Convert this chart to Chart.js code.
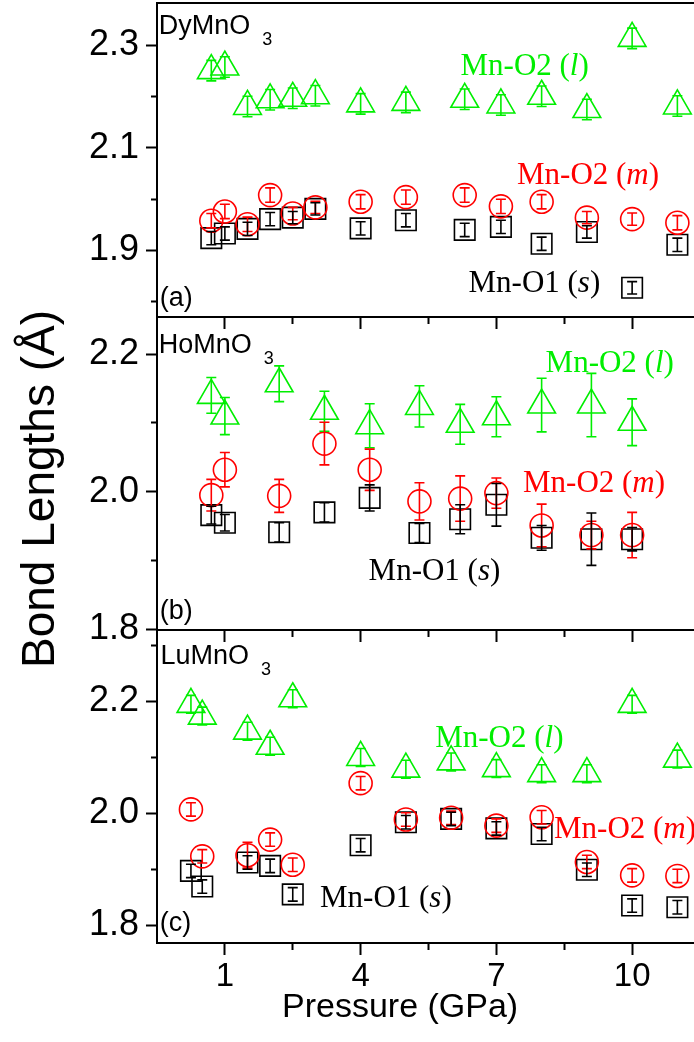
<!DOCTYPE html>
<html>
<head>
<meta charset="utf-8">
<script src="https://cdn.jsdelivr.net/npm/chart.js@4.4.1/dist/chart.umd.min.js"></script>
<style>
  body { margin:0; width:694px; height:1042px; overflow:hidden; background:#fff; position:relative; }
  canvas { position:absolute; left:0; }
  .lbl { position:absolute; white-space:nowrap; line-height:1; }
  .sans { font-family:'Liberation Sans', Arial, sans-serif; }
  .serif { font-family:'Liberation Serif', 'Times New Roman', serif; }
</style>
</head>
<body>
<canvas id="cA" width="702" height="340" style="top:0px"></canvas>
<canvas id="cB" width="702" height="340" style="top:314px"></canvas>
<canvas id="cC" width="702" height="415" style="top:627px"></canvas>
<div id="labels"></div>

<script>
// Presiones (GPa)
const dyPressure = [0.7, 1.0, 1.5, 2.0, 2.5, 3.0, 4.0, 5.0, 6.3, 7.1, 8.0, 9.0, 10.0, 11.0];
const hoPressure = [0.7, 1.0, 2.2, 3.2, 4.2, 5.3, 6.2, 7.0, 8.0, 9.1, 10.0];
const luPressure = [0.25, 0.5, 1.5, 2.0, 2.5, 4.0, 5.0, 6.0, 7.0, 8.0, 9.0, 10.0, 11.0];

// DyMnO3
const dyLong   = [2.251, 2.258, 2.181, 2.194, 2.197, 2.202, 2.186, 2.189, 2.195, 2.184, 2.201, 2.175, 2.314, 2.182];
const dyLongErr = [0.02, 0.02, 0.02, 0.02, 0.02, 0.02, 0.02, 0.02, 0.02, 0.02, 0.02, 0.02, 0.02, 0.02];
const dyMid    = [1.958, 1.976, 1.951, 2.008, 1.972, 1.984, 1.995, 2.004, 2.008, 1.986, 1.995, 1.964, 1.961, 1.954];
const dyMidErr = [0.014, 0.014, 0.014, 0.014, 0.012, 0.012, 0.014, 0.014, 0.014, 0.014, 0.014, 0.012, 0.012, 0.014];
const dyShort  = [1.924, 1.933, 1.942, 1.961, 1.964, 1.981, 1.943, 1.959, 1.940, 1.946, 1.913, 1.936, 1.827, 1.911];
const dyShortErr = [0.013, 0.013, 0.013, 0.013, 0.012, 0.012, 0.013, 0.013, 0.013, 0.013, 0.013, 0.012, 0.012, 0.013];

// HoMnO3
const hoLong   = [2.140, 2.110, 2.157, 2.117, 2.096, 2.124, 2.098, 2.109, 2.126, 2.126, 2.101];
const hoLongErr = [0.026, 0.027, 0.026, 0.029, 0.032, 0.030, 0.029, 0.029, 0.039, 0.046, 0.034];
const hoMid    = [1.995, 2.032, 1.994, 2.070, 2.032, 1.986, 1.990, 1.998, 1.951, 1.937, 1.937];
const hoMidErr = [0.023, 0.025, 0.024, 0.031, 0.030, 0.027, 0.033, 0.022, 0.031, 0.020, 0.033];
const hoShort  = [1.966, 1.955, 1.941, 1.970, 1.991, 1.940, 1.960, 1.981, 1.933, 1.931, 1.931];
const hoShortErr = [0.013, 0.012, 0.014, 0.014, 0.019, 0.014, 0.021, 0.031, 0.018, 0.038, 0.017];

// LuMnO3
const luLong   = [2.195, 2.174, 2.147, 2.120, 2.205, 2.100, 2.079, 2.092, 2.080, 2.071, 2.071, 2.195, 2.097];
const luLongErr = [0.016, 0.016, 0.016, 0.016, 0.016, 0.016, 0.016, 0.016, 0.016, 0.016, 0.016, 0.016, 0.016];
const luMid    = [2.007, 1.923, 1.925, 1.953, 1.908, 2.054, 1.989, 1.992, 1.978, 1.993, 1.913, 1.889, 1.888];
const luMidErr = [0.012, 0.012, 0.023, 0.012, 0.012, 0.012, 0.012, 0.012, 0.012, 0.012, 0.012, 0.012, 0.012];
const luShort  = [1.897, 1.869, 1.912, 1.906, 1.855, 1.943, 1.984, 1.990, 1.973, 1.963, 1.899, 1.835, 1.832];
const luShortErr = [0.012, 0.012, 0.012, 0.012, 0.012, 0.012, 0.012, 0.012, 0.012, 0.012, 0.012, 0.012, 0.012];

// Ticks
const xTicks = [1, 2.5, 4, 5.5, 7, 8.5, 10, 11.5];
const xLabels = [1, 4, 7, 10];
const yTicksA = [1.8, 1.9, 2.0, 2.1, 2.2, 2.3];
const yLabelsA = [1.9, 2.1, 2.3];
const yTicksB = [1.8, 1.9, 2.0, 2.1, 2.2];
const yLabelsB = [1.8, 2.0, 2.2];
const yTicksC = [1.8, 1.9, 2.0, 2.1, 2.2, 2.3];
const yLabelsC = [1.8, 2.0, 2.2];

const GREEN = '#00ee00', RED = '#ff0000', BLACK = '#000000';

Chart.defaults.font.family = "'Liberation Sans', Arial, sans-serif";
Chart.defaults.color = '#000';
Chart.defaults.animation = false;

const has = (list, v) => list.some(t => Math.abs(t - v) < 1e-6);

// error bars drawn from the scales
const errorBars = {
  id: 'errorBars',
  afterDatasetsDraw(chart) {
    const ctx = chart.ctx;
    const xs = chart.scales.x, ys = chart.scales.y;
    ctx.save();
    chart.data.datasets.forEach(ds => {
      if (!ds.err) return;
      ctx.strokeStyle = ds.borderColor;
      ctx.lineWidth = 1.6;
      ds.data.forEach((p, i) => {
        const e = ds.err[i];
        const x = xs.getPixelForValue(p.x);
        const y1 = ys.getPixelForValue(p.y + e);
        const y2 = ys.getPixelForValue(p.y - e);
        ctx.beginPath();
        ctx.moveTo(x, y1); ctx.lineTo(x, y2);
        ctx.moveTo(x - 5, y1); ctx.lineTo(x + 5, y1);
        ctx.moveTo(x - 5, y2); ctx.lineTo(x + 5, y2);
        ctx.stroke();
      });
    });
    ctx.restore();
  }
};

// marco del panel
const frame = {
  id: 'frame',
  afterDraw(chart) {
    const a = chart.chartArea, ctx = chart.ctx;
    ctx.save();
    ctx.strokeStyle = '#000';
    ctx.lineWidth = 2;
    ctx.strokeRect(a.left, a.top, a.right - a.left, a.bottom - a.top);
    ctx.restore();
  }
};

function series(xv, yv, ev, color, style, r) {
  return {
    data: xv.map((x, i) => ({x: x, y: yv[i]})),
    err: ev,
    borderColor: color,
    backgroundColor: 'transparent',
    pointStyle: style,
    pointRadius: r,
    pointBorderWidth: 1.6,
    pointBackgroundColor: 'transparent',
    showLine: false,
    clip: 20
  };
}

function noPad(s) { s.paddingTop = 0; s.paddingBottom = 0; s.paddingLeft = 0; s.paddingRight = 0; }

function panel(id, px, long, longErr, mid, midErr, short, shortErr, yMin, yMax, yTicks, yLabels, xAxisH, showX) {
  new Chart(document.getElementById(id), {
    type: 'scatter',
    data: {
      datasets: [
        series(px, long, longErr, GREEN, 'triangle', 16),
        series(px, mid, midErr, RED, 'circle', 11.5),
        series(px, short, shortErr, BLACK, 'rect', 14.5)
      ]
    },
    options: {
      responsive: false,
      animation: false,
      layout: { autoPadding: false, padding: { top: 3, right: 2, left: 0, bottom: 0 } },
      plugins: { legend: { display: false }, tooltip: { enabled: false } },
      scales: {
        x: {
          type: 'linear', min: -0.5, max: 11.5,
          afterBuildTicks: s => { s.ticks = xTicks.map(v => ({value: v})); },
          afterFit: s => { s.height = xAxisH; noPad(s); },
          border: { display: false },
          grid: {
            drawOnChartArea: false, drawTicks: true, tickLength: 12,
            tickColor: '#000', tickWidth: 2,
            tickBorderDash: c => has(xLabels, c.tick.value) ? [] : [7, 100]
          },
          ticks: {
            display: showX, autoSkip: false, maxRotation: 0, padding: 2,
            font: { size: 33 }, color: '#000',
            callback: v => has(xLabels, v) ? String(v) : ''
          }
        },
        y: {
          type: 'linear', min: yMin, max: yMax,
          afterBuildTicks: s => { s.ticks = yTicks.map(v => ({value: v})); },
          afterFit: s => { s.width = 157; noPad(s); },
          border: { display: false },
          grid: {
            drawOnChartArea: false, drawTicks: true, tickLength: 11,
            tickColor: '#000', tickWidth: 2,
            tickBorderDash: c => has(yLabels, c.tick.value) ? [] : [0, 5, 6, 100]
          },
          ticks: {
            autoSkip: false, padding: 7,
            font: { size: 36 }, color: '#000',
            callback: v => has(yLabels, v) ? v.toFixed(1) : ''
          }
        }
      }
    },
    plugins: [errorBars, frame]
  });
}

panel('cA', dyPressure, dyLong, dyLongErr, dyMid, dyMidErr, dyShort, dyShortErr, 1.770, 2.383, yTicksA, yLabelsA, 23, false);
panel('cB', hoPressure, hoLong, hoLongErr, hoMid, hoMidErr, hoShort, hoShortErr, 1.799, 2.254, yTicksB, yLabelsB, 24, false);
panel('cC', luPressure, luLong, luLongErr, luMid, luMidErr, luShort, luShortErr, 1.768, 2.328, yTicksC, yLabelsC, 99, true);

// textos
const box = document.getElementById('labels');
function label(html, x, base, size, cls, color) {
  const d = document.createElement('div');
  d.className = 'lbl ' + cls;
  d.innerHTML = html;
  const k = cls === 'serif' ? 0.8375 : 0.8465;
  d.style.left = x + 'px';
  d.style.top = (base - size * k) + 'px';
  d.style.fontSize = size + 'px';
  d.style.color = color || '#000';
  box.appendChild(d);
}
const sub = '<span style="font-size:18px;position:relative;top:11px;margin-left:12px">3</span>';
label('DyMnO' + sub, 158.7, 35, 27, 'sans');
label('HoMnO' + sub, 158.7, 354, 27, 'sans');
label('LuMnO' + sub, 160.4, 665, 27, 'sans');
label('(a)', 159.7, 307, 27, 'sans');
label('(b)', 159.7, 620, 27, 'sans');
label('(c)', 159.7, 932, 27, 'sans');

label('Mn-O2 (<i>l</i>)', 460.5, 75, 31, 'serif', GREEN);
label('Mn-O2 (<i>m</i>)', 517, 184, 31, 'serif', RED);
label('Mn-O1 (<i>s</i>)', 468.5, 292, 31, 'serif', BLACK);
label('Mn-O2 (<i>l</i>)', 545.6, 372, 31, 'serif', GREEN);
label('Mn-O2 (<i>m</i>)', 523, 492, 31, 'serif', RED);
label('Mn-O1 (<i>s</i>)', 368.6, 580, 31, 'serif', BLACK);
label('Mn-O2 (<i>l</i>)', 435.2, 747, 31, 'serif', GREEN);
label('Mn-O2 (<i>m</i>)', 554, 838, 31, 'serif', RED);
label('Mn-O1 (<i>s</i>)', 320, 907, 31, 'serif', BLACK);

// títulos de ejes
label('Pressure (GPa)', 0, 1017, 34, 'sans');
const xt = box.lastChild;
xt.style.left = (400 - xt.offsetWidth / 2) + 'px';

const yw = document.createElement('div');
yw.style.cssText = 'position:absolute;left:38px;top:489px;width:0;height:0';
const yt = document.createElement('div');
yt.className = 'lbl sans';
yt.style.cssText += 'position:absolute;left:0;top:0;font-size:46px;transform:translate(-50%,-50%) rotate(-90deg);';
yt.textContent = 'Bond Lengths (Å)';
yw.appendChild(yt);
box.appendChild(yw);
</script>
</body>
</html>
